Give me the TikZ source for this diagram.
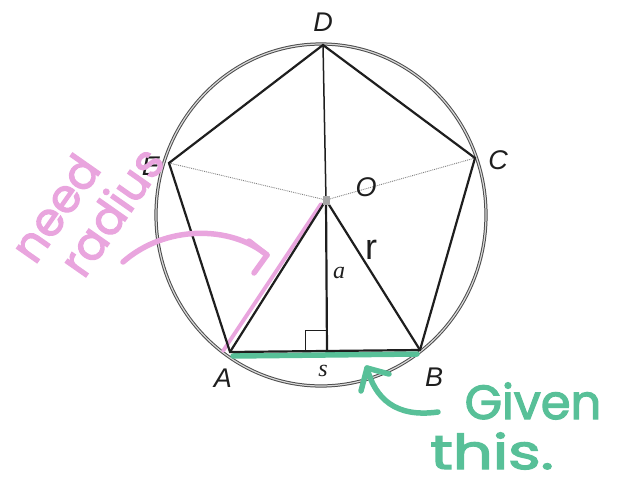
\documentclass[tikz,border=0pt]{standalone}
\usepackage{fontspec}
\setmainfont{Liberation Sans}
\newfontfamily\handfont[FakeBold=2.5]{Poppins}
\newfontfamily\seriffont{Liberation Serif}
\usetikzlibrary{calc}
\definecolor{hlpink}{RGB}{233,165,222}
\definecolor{hlgreen}{RGB}{88,192,152}
\definecolor{inkline}{RGB}{30,30,30}
\begin{document}
\begin{tikzpicture}[x=1pt,y=-1pt,
  edge/.style={line width=2.2pt, draw=inkline},
  thinedge/.style={line width=1.5pt, draw=inkline},
  dotline/.style={draw=gray, line width=0.9pt, densely dotted},
  ptlabel/.style={font=\fontsize{27}{27}\selectfont\itshape, text=inkline, inner sep=0pt},
  varlabel/.style={font=\seriffont\fontsize{24}{24}\selectfont\itshape, text=inkline, inner sep=0pt},
  pinkpen/.style={draw=hlpink, line width=5.5pt, line cap=round, line join=round},
  greenpen/.style={draw=hlgreen, line width=5.5pt, line cap=round, line join=round},
  pinktext/.style={font=\handfont\fontsize{46}{46}\selectfont, text=hlpink, inner sep=0pt, rotate=55},
  greentext/.style={font=\handfont\fontsize{48}{48}\selectfont, text=hlgreen, inner sep=0pt}]
\useasboundingbox (0,0) rectangle (618,484);
% vertices
\coordinate (A) at (230,352);
\coordinate (B) at (420,350);
\coordinate (C) at (475,158);
\coordinate (D) at (323,45);
\coordinate (E) at (169,163);
\coordinate (O) at (326,200);
\coordinate (F) at (327,351);
% circle
\coordinate (M) at (321,215);
\draw[draw=gray!60!black, line width=1pt, double=gray!30, double distance=1.2pt] (M) ellipse [x radius=165, y radius=171];
% highlights
\draw[greenpen] ($(A)+(3,4)$) -- ($(B)+(-3,4)$);
\draw[draw=hlpink, line width=3.8pt, line cap=round] ($(A)+(-7,-1)$) -- ($(O)+(-5,4)$);
% dotted radii
\draw[dotline] (E) -- (O) -- (C);
% edges
\draw[edge, line join=miter] (A) -- (B) -- (C) -- (D) -- (E) -- cycle;
\draw[thinedge] (D) -- (O);
\draw[edge] (A) -- (O) -- (B);
\draw[edge] (O) -- (F);
\draw[line width=1pt, draw=inkline] (F) -- ++(-22,0) -- ++(0,-21) -- ++(22,0);
\fill[gray!70] ($(O)+(-3.5,-4.5)$) rectangle ($(O)+(3.5,4.5)$);
% labels
\node[ptlabel] (lD) at (323,22) {D};
\node[ptlabel] (lE) at (151,166) {E};
\node[ptlabel] (lC) at (498,160) {C};
\node[ptlabel] (lO) at (366,187) {O};
\node[ptlabel] (lA) at (223,378) {A};
\node[ptlabel] (lB) at (434,377) {B};
\node[varlabel] (la) at (339,273) {a};
\node[varlabel] (ls) at (323,371) {s};
\node[font=\fontsize{36}{36}\selectfont, text=inkline, inner sep=0pt] (lr) at (371,250) {r};
% pink note
\node[pinktext] (need) at (55,208) {need};
\node[pinktext] (radius) at (111,211) {radius};
\coordinate (p1) at (123,262);
\coordinate (p2) at (267,255);
\coordinate (p3) at (249,241);
\coordinate (p4) at (254,273);
\draw[pinkpen] (p1) .. controls (165,225) and (230,225) .. (p2);
\draw[pinkpen] (p3) -- (p2) -- (p4);
% green note
\node[greentext] (given) at (533,401) {Given};
\node[greentext, xscale=1.3] (this) at (492,451) {this.};
\coordinate (g1) at (438,412);
\coordinate (g2) at (367,368);
\coordinate (g3) at (361,391);
\coordinate (g4) at (389,374);
\draw[greenpen] (g1) .. controls (395,418) and (375,398) .. (g2);
\draw[greenpen] (g3) -- (g2) -- (g4);
\end{tikzpicture}
\end{document}
